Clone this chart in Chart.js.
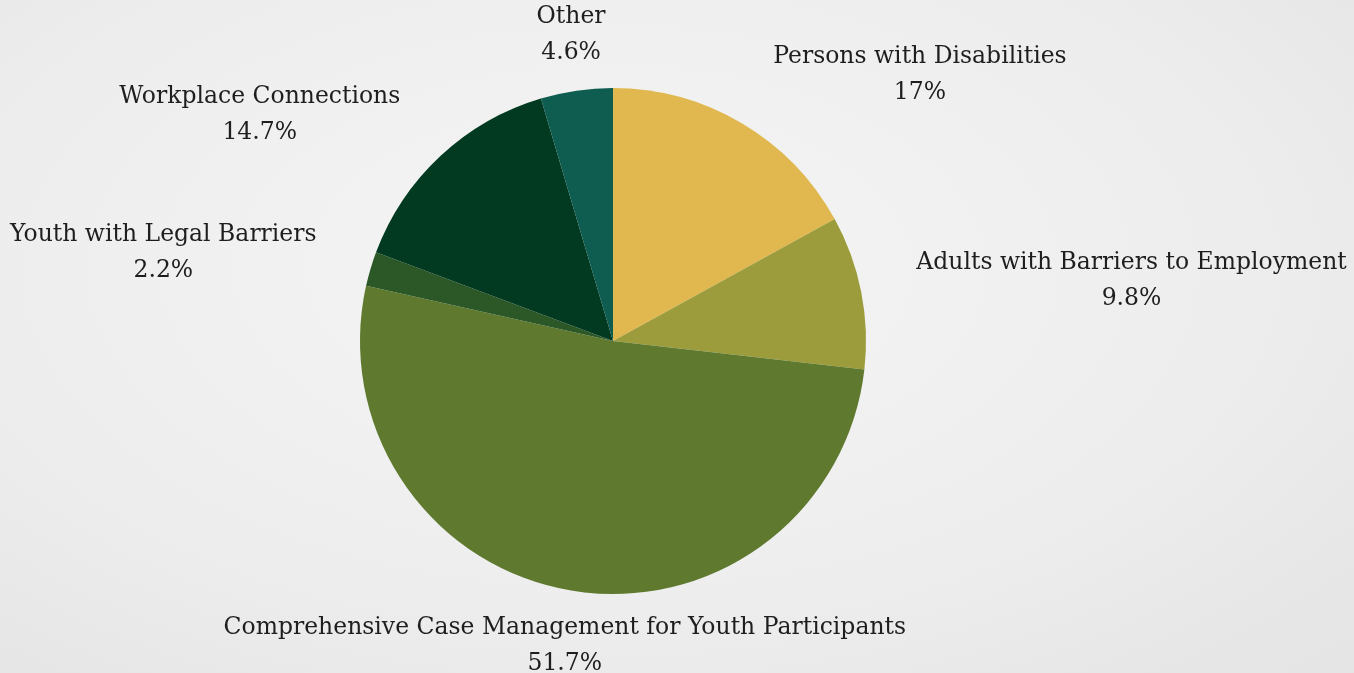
<!DOCTYPE html>
<html>
<head>
<meta charset="utf-8">
<script src="https://cdn.jsdelivr.net/npm/chart.js@4/dist/chart.umd.min.js"></script>
<style>
  html, body { margin: 0; padding: 0; }
  body { width: 1354px; height: 673px; overflow: hidden;
         background: radial-gradient(ellipse at 45% 40%, #f5f5f5 0%, #eeeeee 55%, #e4e4e4 100%); }
  #wrap { position: relative; width: 1354px; height: 673px; }
</style>
</head>
<body>
<div id="wrap"><canvas id="c"></canvas></div>
<script>
const categories = [
  "Persons with Disabilities",
  "Adults with Barriers to Employment",
  "Comprehensive Case Management for Youth Participants",
  "Youth with Legal Barriers",
  "Workplace Connections",
  "Other"
];
const values = [17, 9.8, 51.7, 2.2, 14.7, 4.6];
const valueLabels = ["17%", "9.8%", "51.7%", "2.2%", "14.7%", "4.6%"];
const colors = ["#E0B84F", "#9C9C3C", "#5F7A2F", "#2B5826", "#013A20", "#0F5C50"];

const outsideLabels = {
  id: "outsideLabels",
  afterDatasetsDraw(chart) {
    const ctx = chart.ctx;
    const meta = chart.getDatasetMeta(0);
    const fontSize = 23.5;
    const lineGap = 36;
    const offset = 38;
    ctx.save();
    ctx.font = fontSize + "px 'DejaVu Serif', serif";
    ctx.fillStyle = "#1e1e1e";
    ctx.textBaseline = "middle";
    ctx.textAlign = "center";
    meta.data.forEach((arc, i) => {
      const p = arc.getProps(["x", "y", "startAngle", "endAngle", "outerRadius"], true);
      const mid = (p.startAngle + p.endAngle) / 2;
      const r = p.outerRadius + offset;
      const cs = Math.cos(mid), sn = Math.sin(mid);
      const ax = p.x + cs * r;
      const ay = p.y + sn * r;
      const lines = [categories[i], valueLabels[i]];
      const bw = Math.max(...lines.map(l => ctx.measureText(l).width));
      const gap = 6 + 12 * Math.abs(cs);
      let cx;
      if (Math.abs(cs) < 0.3) cx = ax;
      else if (cs > 0) cx = ax + gap + bw / 2;
      else cx = ax - gap - bw / 2;
      const cy = ay + 18.5 * sn;
      lines.forEach((l, k) => {
        ctx.fillText(l, cx, cy + (k - 0.5) * lineGap);
      });
    });
    ctx.restore();
  }
};

new Chart(document.getElementById("c"), {
  type: "pie",
  data: {
    labels: categories,
    datasets: [{
      data: values,
      backgroundColor: colors,
      borderWidth: 0
    }]
  },
  options: {
    responsive: true,
    maintainAspectRatio: false,
    animation: false,
    layout: { padding: { top: 88, bottom: 79, left: 0, right: 128 } },
    plugins: { legend: { display: false }, tooltip: { enabled: false } }
  },
  plugins: [outsideLabels]
});
</script>
</body>
</html>
